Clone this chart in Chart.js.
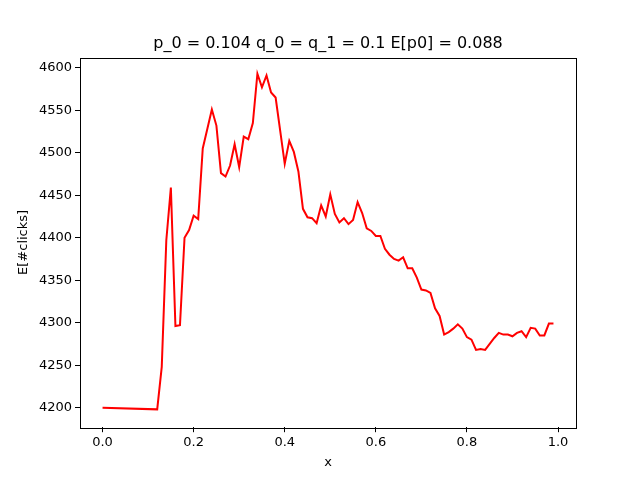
<!DOCTYPE html>
<html>
<head>
<meta charset="utf-8">
<script src="https://cdn.jsdelivr.net/npm/chart.js@4.4.1/dist/chart.umd.min.js"></script>
<style>
  html, body { margin: 0; padding: 0; background: #fff; }
  #wrap { width: 640px; height: 480px; }
</style>
</head>
<body>
<div id="wrap"><canvas id="chart" width="640" height="480"></canvas></div>
<script>
// x positions of the samples
const xs = [0.00, 0.12, 0.13, 0.14, 0.15, 0.16, 0.17, 0.18, 0.19,
  0.20, 0.21, 0.22, 0.23, 0.24, 0.25, 0.26, 0.27, 0.28, 0.29,
  0.30, 0.31, 0.32, 0.33, 0.34, 0.35, 0.36, 0.37, 0.38, 0.39,
  0.40, 0.41, 0.42, 0.43, 0.44, 0.45, 0.46, 0.47, 0.48, 0.49,
  0.50, 0.51, 0.52, 0.53, 0.54, 0.55, 0.56, 0.57, 0.58, 0.59,
  0.60, 0.61, 0.62, 0.63, 0.64, 0.65, 0.66, 0.67, 0.68, 0.69,
  0.70, 0.71, 0.72, 0.73, 0.74, 0.75, 0.76, 0.77, 0.78, 0.79,
  0.80, 0.81, 0.82, 0.83, 0.84, 0.85, 0.86, 0.87, 0.88, 0.89,
  0.90, 0.91, 0.92, 0.93, 0.94, 0.95, 0.96, 0.97, 0.98, 0.99];

// expected number of clicks
const clicks = [4200, 4198, 4248, 4397, 4459, 4296, 4297, 4400, 4409,
  4426, 4422, 4505, 4528, 4551, 4532, 4476, 4472, 4485, 4510,
  4483, 4519, 4516, 4535, 4593, 4577, 4591, 4571, 4565, 4526,
  4487, 4514, 4501, 4478, 4434, 4424, 4423, 4417, 4438, 4425,
  4451, 4428, 4418, 4423, 4416, 4421, 4442, 4429, 4411, 4408,
  4402, 4402, 4387, 4380, 4375, 4373, 4377, 4364, 4364, 4353,
  4339, 4338, 4335, 4317, 4308, 4286, 4289, 4293, 4298, 4293,
  4283, 4280, 4268, 4269, 4268, 4275, 4282, 4288, 4286, 4286,
  4284, 4288, 4290, 4283, 4294, 4293, 4285, 4285, 4299, 4299];

const xTicks = [0, 0.2, 0.4, 0.6, 0.8, 1.0];
const yTicks = [4200, 4250, 4300, 4350, 4400, 4450, 4500, 4550, 4600];

const titleText = 'p_0 = 0.104 q_0 = q_1 = 0.1 E[p0] = 0.088';
const font = 'DejaVu Sans';

// frame round the plot area (like matplotlib spines) and the title centred over it
const frame = {
  id: 'frame',
  afterDraw(chart) {
    const a = chart.chartArea;
    const ctx = chart.ctx;
    ctx.save();
    ctx.strokeStyle = '#000';
    ctx.lineWidth = 1;
    ctx.strokeRect(Math.round(a.left) + 0.5, Math.round(a.top) + 0.5,
      Math.round(a.right - a.left), Math.round(a.bottom - a.top));
    ctx.fillStyle = '#000';
    ctx.font = '16px "' + font + '"';
    ctx.textAlign = 'center';
    ctx.textBaseline = 'middle';
    ctx.fillText(titleText, (a.left + a.right) / 2, 44);
    ctx.restore();
  }
};

const pts = xs.map((x, i) => ({ x: x, y: clicks[i] }));

new Chart(document.getElementById('chart').getContext('2d'), {
  type: 'line',
  data: {
    datasets: [{
      data: pts,
      borderColor: '#ff0000',
      borderWidth: 2,
      pointRadius: 0,
      tension: 0,
      fill: false
    }]
  },
  options: {
    responsive: false,
    animation: false,
    layout: { padding: { left: 0, right: 64, top: 57.6, bottom: 0 } },
    plugins: {
      legend: { display: false },
      tooltip: { enabled: false },
      title: { display: false }
    },
    scales: {
      x: {
        type: 'linear',
        min: -0.0495,
        max: 1.0395,
        afterBuildTicks: s => { s.ticks = xTicks.map(v => ({ value: v })); },
        afterFit: s => { s.height = 52.8; },
        grid: { drawOnChartArea: false, drawTicks: true, tickLength: 5, color: '#000' },
        border: { display: false },
        ticks: {
          color: '#000', padding: 3, maxRotation: 0,
          font: { family: font, size: 13 },
          callback: v => v.toFixed(1)
        },
        title: {
          display: true, text: 'x', color: '#000',
          font: { family: font, size: 13 }, padding: { top: 2, bottom: 10 }
        }
      },
      y: {
        type: 'linear',
        min: 4177,
        max: 4612,
        afterBuildTicks: s => { s.ticks = yTicks.map(v => ({ value: v })); },
        afterFit: s => { s.width = 80; },
        grid: { drawOnChartArea: false, drawTicks: true, tickLength: 5, color: '#000' },
        border: { display: false },
        ticks: {
          color: '#000', padding: 3,
          font: { family: font, size: 13 },
          callback: v => String(v)
        },
        title: {
          display: true, text: 'E[#clicks]', color: '#000',
          font: { family: font, size: 13 }, padding: { top: 16, bottom: 2 }
        }
      }
    }
  },
  plugins: [frame]
});
</script>
</body>
</html>
